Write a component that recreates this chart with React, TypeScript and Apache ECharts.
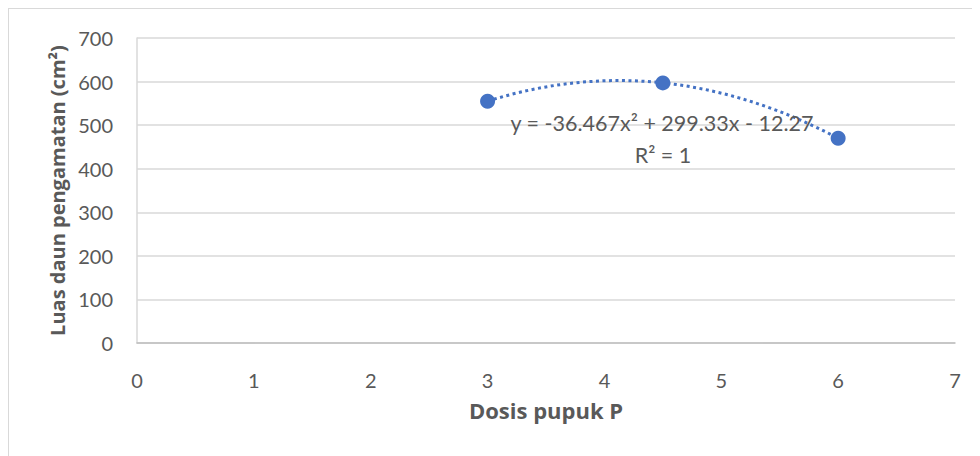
import React, { useEffect, useRef } from "react";
import * as echarts from "echarts";

const dosis = [3, 4.5, 6];
const luasDaun = [555, 597, 470];
const xTicks = [0, 1, 2, 3, 4, 5, 6, 7];
const yMax = 700;
const equationText = "y = -36.467x² + 299.33x - 12.27";
const r2Text = "R² = 1";
const xTitle = "Dosis pupuk P";
const yTitle = "Luas daun pengamatan (cm²)";

const FONT = "Lato, 'Liberation Sans', sans-serif";
const TITLE_FONT = "'Open Sans', 'Noto Sans', sans-serif";
const BLUE = "#4472C4";
const TEXT = "#595959";

export default function App() {
  const ref = useRef<HTMLDivElement>(null);
  useEffect(() => {
    if (!ref.current) return;
    const chart = echarts.init(ref.current, null, { renderer: "svg" });
    const pts = dosis.map((x, i) => [x, luasDaun[i]]);
    chart.setOption({
      animation: false,
      backgroundColor: "#ffffff",
      grid: { left: 128, top: 29, width: 818, height: 305, containLabel: false },
      xAxis: {
        type: "value",
        min: xTicks[0],
        max: xTicks[xTicks.length - 1],
        interval: 1,
        name: xTitle,
        nameLocation: "middle",
        nameGap: 56,
        nameTextStyle: { fontFamily: TITLE_FONT, fontSize: 22, fontWeight: "bold", color: TEXT },
        axisLine: { show: true, lineStyle: { color: "#bfbfbf", width: 1.5 } },
        axisTick: { show: false },
        splitLine: { show: false },
        axisLabel: { fontFamily: FONT, fontSize: 20, color: TEXT, margin: 27 },
      },
      yAxis: {
        type: "value",
        min: 0,
        max: yMax,
        interval: 100,
        name: yTitle,
        nameLocation: "middle",
        nameGap: 70,
        nameTextStyle: { fontFamily: TITLE_FONT, fontSize: 20, fontWeight: "bold", color: TEXT },
        axisLine: { show: true, lineStyle: { color: "#d9d9d9", width: 1.5 } },
        axisTick: { show: false },
        splitLine: { show: true, lineStyle: { color: "#d9d9d9", width: 1.5 } },
        axisLabel: { fontFamily: FONT, fontSize: 20, color: TEXT, margin: 24 },
      },
      series: [
        {
          // trendline: single quadratic Bezier passing through the three observations
          type: "custom",
          coordinateSystem: "cartesian2d",
          data: [pts[0]],
          z: 2,
          silent: true,
          renderItem: (params: any, api: any) => {
            if (params.dataIndex !== 0) return null;
            const p0 = api.coord(pts[0]);
            const p1 = api.coord(pts[1]);
            const p2 = api.coord(pts[2]);
            const cx = 2 * p1[0] - (p0[0] + p2[0]) / 2;
            const cy = 2 * p1[1] - (p0[1] + p2[1]) / 2;
            return {
              type: "path",
              shape: {
                pathData: `M${p0[0]} ${p0[1]} Q${cx} ${cy} ${p2[0]} ${p2[1]}`,
              },
              style: {
                fill: "none",
                stroke: BLUE,
                lineWidth: 3,
                lineDash: [3, 3.5],
              },
            };
          },
        },
        {
          type: "scatter",
          data: pts,
          symbol: "circle",
          symbolSize: 15,
          itemStyle: { color: BLUE, opacity: 1 },
          z: 3,
        },
      ],
      graphic: [
        {
          type: "text",
          x: 653,
          y: 114,
          z: 10,
          style: {
            text: equationText,
            fontFamily: FONT,
            fontSize: 21.5,
            fill: TEXT,
            align: "center",
            verticalAlign: "middle",
          },
        },
        {
          type: "text",
          x: 654,
          y: 146,
          z: 10,
          style: {
            text: r2Text,
            fontFamily: FONT,
            fontSize: 21.5,
            fill: TEXT,
            align: "center",
            verticalAlign: "middle",
          },
        },
      ],
    });
    return () => chart.dispose();
  }, []);
  return (
    <div
      style={{
        width: 972,
        height: 448,
        borderTop: "1px solid #d9d9d9",
        borderLeft: "1px solid #d9d9d9",
        boxSizing: "border-box",
        overflow: "hidden",
      }}
    >
      <div ref={ref} style={{ width: 971, height: 447 }} />
    </div>
  );
}
